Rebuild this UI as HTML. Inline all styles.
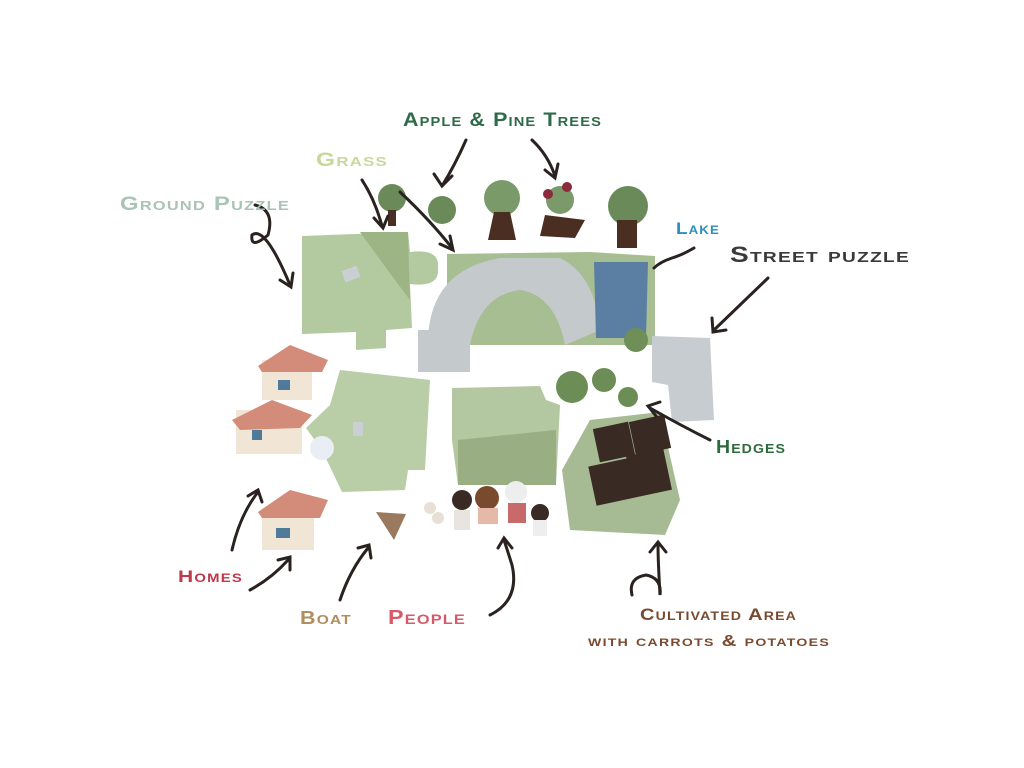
<!DOCTYPE html>
<html><head><meta charset="utf-8"><style>
html,body{margin:0;padding:0;background:#fff;width:1024px;height:768px;overflow:hidden}
svg{display:block}
text{font-family:"Liberation Sans",sans-serif;font-weight:bold;font-variant:small-caps;letter-spacing:1px}
</style></head><body>
<svg width="1024" height="768" viewBox="0 0 1024 768">
<rect width="1024" height="768" fill="#fff"/>
<path d="M302 236 L408 232 L410 252 Q440 248 438 268 Q440 288 410 284 L412 328 L386 330 L386 348 L356 350 L356 332 L302 334 Z" fill="#b3c9a0"/>
<path d="M360 232 L408 232 L410 300 Q380 260 360 232Z" fill="#9db584"/>
<rect x="343" y="268" width="16" height="12" fill="#c9cfd2" transform="rotate(-20 351 274)"/>
<path d="M447 254 L590 252 L655 256 L655 345 L447 345 Z" fill="#a7bd92"/>
<path d="M428 340 Q430 270 500 258 L560 258 Q595 275 600 330 L565 345 Q555 295 520 290 Q480 295 470 345 Z" fill="#c4c9cc"/>
<path d="M418 330 L470 330 L470 372 L418 372 Z" fill="#c4c9cc"/>
<path d="M594 262 L648 262 L646 338 L596 338 Z" fill="#5b7fa3"/>
<circle cx="636" cy="340" r="12" fill="#6f8f58"/>
<path d="M652 336 L710 338 L714 420 L672 422 L668 385 L652 382 Z" fill="#c7ccd0"/>
<path d="M340 370 L430 380 L425 470 L408 470 L405 490 L342 492 L322 450 L306 428 L330 405 Z" fill="#b9cda7"/>
<rect x="353" y="422" width="10" height="14" fill="#c9cfd2"/>
<path d="M452 388 L540 386 L546 400 L560 405 L556 485 L458 485 L452 440 Z" fill="#b3c7a0"/>
<path d="M458 440 L556 430 L556 485 L458 485 Z" fill="#99ae82"/>
<circle cx="572" cy="387" r="16" fill="#6c8d55"/><circle cx="604" cy="380" r="12" fill="#6c8d55"/><circle cx="628" cy="397" r="10" fill="#6c8d55"/>
<path d="M590 420 L660 412 L680 500 L665 535 L570 530 L562 470 Z" fill="#a6bb94"/>
<rect x="592" y="462" width="40" height="40" fill="#3a2a24" transform="rotate(-12 612 482)"/>
<rect x="630" y="452" width="38" height="42" fill="#3a2a24" transform="rotate(-12 649 473)"/>
<rect x="596" y="425" width="36" height="34" fill="#3a2a24" transform="rotate(-12 614 442)"/>
<rect x="632" y="418" width="36" height="34" fill="#3a2a24" transform="rotate(-12 650 435)"/>
<circle cx="392" cy="198" r="14" fill="#6b8a5a"/><rect x="388" y="210" width="8" height="16" fill="#4a2e22"/>
<circle cx="442" cy="210" r="14" fill="#6b8a5a"/>
<circle cx="502" cy="198" r="18" fill="#7a9a6a"/><path d="M494 212 L510 212 L516 240 L488 240Z" fill="#4a2e22"/>
<circle cx="560" cy="200" r="14" fill="#7a9a6a"/><path d="M545 215 L585 220 L575 238 L540 236Z" fill="#4a2e22"/>
<circle cx="548" cy="194" r="5" fill="#8a2a3a"/><circle cx="567" cy="187" r="5" fill="#8a2a3a"/>
<circle cx="628" cy="206" r="20" fill="#6b8a5a"/><rect x="617" y="220" width="20" height="28" fill="#4a2e22"/>
<rect x="262" y="360" width="50" height="40" fill="#f1e6d6"/><path d="M258 366 L290 345 L328 360 L322 372 L262 372Z" fill="#d38b7a"/>
<rect x="236" y="410" width="66" height="44" fill="#f1e6d6"/><path d="M232 420 L272 400 L312 415 L300 428 L240 430Z" fill="#d38b7a"/>
<circle cx="322" cy="448" r="12" fill="#e8eef4"/>
<rect x="262" y="508" width="52" height="42" fill="#f1e6d6"/><path d="M258 512 L290 490 L328 500 L320 518 L262 518Z" fill="#d38b7a"/>
<rect x="278" y="380" width="12" height="10" fill="#4f7a9a"/><rect x="252" y="430" width="10" height="10" fill="#4f7a9a"/><rect x="276" y="528" width="14" height="10" fill="#4f7a9a"/>
<path d="M376 512 L406 514 L394 540 Z" fill="#9a7a5e"/>
<circle cx="430" cy="508" r="6" fill="#e8e0d4"/><circle cx="438" cy="518" r="6" fill="#e8e0d4"/>
<circle cx="462" cy="500" r="10" fill="#3a2a24"/><circle cx="487" cy="498" r="12" fill="#7a4a2e"/><circle cx="516" cy="492" r="11" fill="#eee"/><circle cx="540" cy="513" r="9" fill="#3a2a24"/>
<rect x="454" y="510" width="16" height="20" fill="#e8e4e0"/><rect x="478" y="508" width="20" height="16" fill="#e6b8a8"/><rect x="508" y="503" width="18" height="20" fill="#c86a6a"/><rect x="533" y="520" width="14" height="16" fill="#eee"/>
<g stroke="#2a2220" stroke-width="3" fill="none" stroke-linecap="round">
<path d="M466 140 Q455 165 442 186"/><path d="M434 174 L442 186 L452 176"/>
<path d="M532 140 Q548 155 555 176"/><path d="M545 170 L555 178 L558 164"/>
<path d="M362 180 Q375 200 382 226"/><path d="M374 218 L383 228 L388 216"/>
<path d="M400 192 Q430 220 452 248"/><path d="M440 244 L453 250 L450 236"/>
<path d="M255 205 Q275 210 268 235 Q250 250 252 235 Q265 225 290 285"/><path d="M280 280 L291 287 L293 273"/>
<path d="M694 248 Q682 255 672 258 Q660 262 654 268"/>
<path d="M768 278 Q740 305 714 330"/><path d="M712 318 L713 332 L726 330"/>
<path d="M710 440 Q680 425 650 408"/><path d="M660 402 L648 406 L656 416"/>
<path d="M232 550 Q240 515 258 492"/><path d="M248 496 L258 490 L262 502"/>
<path d="M250 590 Q272 578 288 560"/><path d="M278 560 L290 557 L290 570"/>
<path d="M340 600 Q350 570 368 548"/><path d="M358 548 L369 545 L371 558"/>
<path d="M490 615 Q520 600 512 565 Q508 552 504 540"/><path d="M498 548 L504 538 L512 548"/>
<path d="M632 595 Q628 578 646 575 Q662 578 660 595 Q658 560 658 545"/><path d="M650 552 L658 542 L666 552"/>
</g>
<text x="403" y="126" font-size="19" fill="#2e6b48" textLength="199" lengthAdjust="spacingAndGlyphs">Apple &amp; Pine Trees</text>
<text x="316" y="166" font-size="19" fill="#c8d89b" textLength="72" lengthAdjust="spacingAndGlyphs">Grass</text>
<text x="120" y="210" font-size="19" fill="#a9c3b5" textLength="170" lengthAdjust="spacingAndGlyphs">Ground Puzzle</text>
<text x="676" y="234" font-size="17" fill="#2b8fb8" textLength="44" lengthAdjust="spacingAndGlyphs">Lake</text>
<text x="730" y="262" font-size="22" fill="#3a3a3a" textLength="180" lengthAdjust="spacingAndGlyphs">Street puzzle</text>
<text x="716" y="453" font-size="18" fill="#2e6b3a" textLength="70" lengthAdjust="spacingAndGlyphs">Hedges</text>
<text x="178" y="582" font-size="17" fill="#c0364a" textLength="65" lengthAdjust="spacingAndGlyphs">Homes</text>
<text x="300" y="624" font-size="18" fill="#b08e5e" textLength="52" lengthAdjust="spacingAndGlyphs">Boat</text>
<text x="388" y="624" font-size="20" fill="#d85a6a" textLength="78" lengthAdjust="spacingAndGlyphs">People</text>
<text x="640" y="620" font-size="17" fill="#7a4a2e" textLength="157" lengthAdjust="spacingAndGlyphs">Cultivated Area</text>
<text x="588" y="646" font-size="16" fill="#7a4a2e" textLength="242" lengthAdjust="spacingAndGlyphs">with carrots &amp; potatoes</text>
</svg>
</body></html>
